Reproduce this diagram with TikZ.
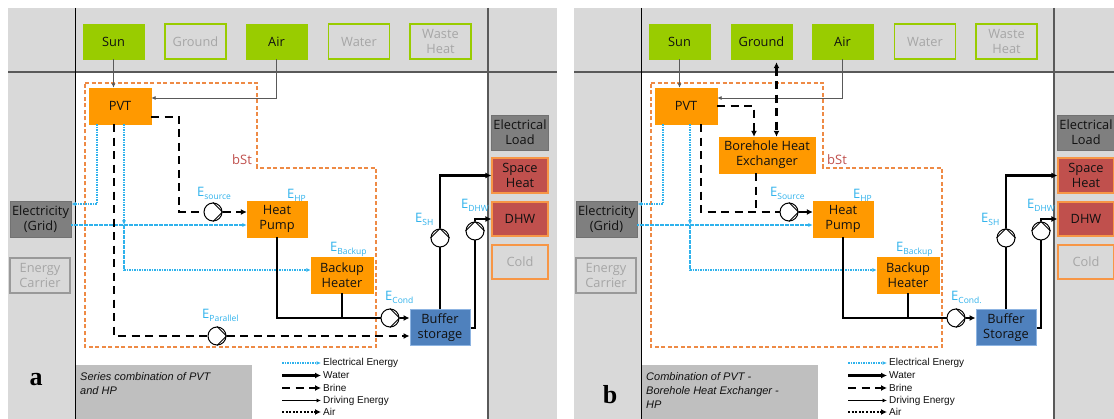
\documentclass[tikz,border=0pt]{standalone}
\usepackage{fontspec}
\setmainfont{Open Sans}
\newfontfamily\arialf{Liberation Sans}
\newfontfamily\timesf{Liberation Serif}
\usetikzlibrary{arrows.meta}
\definecolor{bggray}{HTML}{D9D9D9}
\definecolor{capgray}{HTML}{BFBFBF}
\definecolor{linegray}{HTML}{595959}
\definecolor{greenA}{HTML}{99CC00}
\definecolor{txtgray}{HTML}{A6A6A6}
\definecolor{orangeA}{HTML}{FF9900}
\definecolor{boundC}{HTML}{EE8A45}
\definecolor{bstC}{HTML}{C0504D}
\definecolor{loadC}{HTML}{7F7F7F}
\definecolor{redC}{HTML}{C0504D}
\definecolor{redB}{HTML}{F79646}
\definecolor{blueC}{HTML}{4F81BD}
\definecolor{blueB}{HTML}{8DB4E2}
\definecolor{eblue}{HTML}{2FB2EC}
\definecolor{txtdark}{HTML}{111111}
\newcommand\esub[1]{\raisebox{-2.8pt}{\fontsize{8.5}{8.5}\selectfont #1}}
\tikzset{
  box/.style={minimum width=61pt, minimum height=35pt, inner sep=1pt, align=center,
    font=\fontsize{12.8}{15}\selectfont, text=txtdark},
  srcon/.style={box, fill=greenA, draw=greenA},
  srcoff/.style={box, draw=greenA, line width=1.5pt, text=txtgray},
  comp/.style={box, fill=orangeA, draw=orangeA, minimum width=62pt, minimum height=36pt},
  loadbox/.style={box, fill=loadC, draw=loadC!90!black, line width=0.8pt},
  demand/.style={box, fill=redC, draw=redB, line width=1.2pt, minimum width=56pt},
  demandoff/.style={box, fill=bggray, draw=redB, line width=1.2pt, minimum width=56pt, text=txtgray},
  carrier/.style={box, fill=bggray, draw=loadC!80!white, line width=1.2pt, text=txtgray, minimum width=60pt},
  store/.style={box, fill=blueC, draw=blueB, line width=1pt, minimum width=60pt, minimum height=36pt},
  pumpc/.style={circle, draw=black, fill=white, line width=1pt, minimum size=18pt, inner sep=0pt},
  pumpln/.style={draw=black, line width=1pt},
  bound/.style={draw=boundC, line width=1.3pt, dash pattern=on 4pt off 2.5pt},
  bigarr/.style={-{Latex[length=6pt,width=6pt]}},
  bothbig/.style={{Latex[length=6pt,width=6pt]}-{Latex[length=6pt,width=6pt]}},
  smallarr/.style={-{Latex[length=4.5pt,width=4pt]}},
  brine/.style={draw=black, line width=2.3pt, dash pattern=on 8pt off 5.5pt},
  water/.style={draw=black, line width=2.3pt},
  airln/.style={draw=black, line width=2.3pt, dash pattern=on 2pt off 1.6pt},
  elec/.style={draw=eblue, line width=1.1pt, dash pattern=on 1.6pt off 0.9pt},
  drive/.style={draw=linegray, line width=0.9pt},
  legdrive/.style={draw=black, line width=0.8pt},
  elab/.style={anchor=base west, inner sep=0pt, text=eblue, font=\fontsize{13}{14}\selectfont},
  legtxt/.style={anchor=west, inner sep=2pt, text=txtdark, font=\arialf\fontsize{10}{11}\selectfont},
  capt/.style={anchor=north west, inner sep=0pt, align=left, text=txtdark, font=\arialf\itshape\fontsize{11}{14.3}\selectfont},
  bst/.style={inner sep=0pt, text=bstC, font=\fontsize{13}{14}\selectfont},
  letter/.style={inner sep=0pt, font=\timesf\bfseries\fontsize{26}{26}\selectfont}
}
% #1 ground style, #2 buffer word, #3 cond subscript
\newcommand\panelbase[3]{%
  \fill[bggray] (8,8) rectangle (557,419);
  \fill[white] (75,72) rectangle (488,419);
  \fill[capgray] (75,365) rectangle (252,419);
  \draw[linegray, line width=1.2pt] (8,72) -- (557,72);
  \draw[black, line width=1pt] (75,8) -- (75,419);
  \draw[linegray, line width=1.2pt] (488,8) -- (488,419);
  % sources
  \node[srcon] (sun) at (113.5,41.5) {Sun};
  \node[#1] (ground) at (195.5,41.5) {Ground};
  \node[srcon] (air) at (276.5,41.5) {Air};
  \node[srcoff] (water) at (359,41.5) {Water};
  \node[srcoff] (waste) at (440.5,41.5) {Waste\\Heat};
  % right column
  \node[loadbox, minimum width=57pt] (eload) at (520,132.5) {Electrical\\Load};
  \node[demand] (sh) at (520,175.5) {Space\\Heat};
  \node[demand, minimum height=34pt] (dhw) at (520,219) {DHW};
  \node[demandoff, minimum height=34pt] (cold) at (520,262) {Cold};
  % left column
  \node[loadbox, minimum height=36pt] (grid) at (40.5,219) {Electricity\\(Grid)};
  \node[carrier] (carrier) at (40,275.5) {Energy\\Carrier};
  % boundary
  \draw[bound] (85,83) -- (257,83) -- (257,168) -- (376,168) -- (376,347) -- (85,347) -- cycle;
  % components
  \node[comp] (pvt) at (120,106) {PVT};
  \node[comp, minimum width=60pt] (hp) at (277,219) {Heat\\Pump};
  \node[comp] (bh) at (342,275) {Backup\\Heater};
  \node[store] (buf) at (440,328) {Buffer\\#2};
  % pumps
  \node[pumpc] (pcond) at (390,318) {};
  \node[pumpc] (psh) at (440,238) {};
  \node[pumpc] (pdhw) at (475,231) {};
  \draw[pumpln] (pcond.north) -- (pcond.east) -- (pcond.south);
  \draw[pumpln] (psh.west) -- (psh.north) -- (psh.east);
  \draw[pumpln] (pdhw.west) -- (pdhw.north) -- (pdhw.east);
  % driving energy
  \draw[drive, smallarr] (sun.south) -- (sun.south |- pvt.north);
  \draw[drive, smallarr] (air.south) |- ([yshift=8pt]pvt.east);
  % electrical
  \coordinate (pvto1) at ([xshift=-23pt]pvt.south);
  \coordinate (gridin) at ([yshift=15pt]grid.east);
  \coordinate (gridout) at ([yshift=-6pt]grid.east);
  \coordinate (pvto2) at ([xshift=4pt]pvt.south);
  \coordinate (ej) at (pvto2 |- gridout);
  \coordinate (bhin) at ([yshift=5pt]bh.west);
  \draw[elec, smallarr] (pvto1) |- (gridin);
  \draw[elec, smallarr] (gridout) -- (gridout -| hp.west);
  \draw[elec, smallarr] (pvto2) -- (ej);
  \draw[elec, smallarr] (ej) |- (bhin);
  % water
  \draw[water] (hp.south) |- (pcond.west);
  \draw[water] (bh.south) -- (bh.south |- pcond.west);
  \draw[water, bigarr] (pcond.east) -- (pcond.east -| buf.west);
  \draw[water] (buf.north) -- (psh.south);
  \draw[water, bigarr] (psh.north) |- (sh.west);
  \draw[water] (buf.east) -| (pdhw.south);
  \draw[water, bigarr] (pdhw.north) |- (dhw.west);
  % labels
  \node[elab] (lhp) at (287,199) {E\esub{HP}};
  \node[elab] (lbk) at (330,252) {E\esub{Backup}};
  \node[elab] (lcond) at (385,301) {E\esub{#3}};
  \node[elab] (lsh) at (415,223) {E\esub{SH}};
  \node[elab] (ldhw) at (461,209) {E\esub{DHW}};
  % legend
  \node[legtxt] (lg1) at (321,363) {Electrical Energy};
  \node[legtxt] (lg2) at (321,375.5) {Water};
  \node[legtxt] (lg3) at (321,388) {Brine};
  \node[legtxt] (lg4) at (321,400.5) {Driving Energy};
  \node[legtxt] (lg5) at (321,412) {Air};
  \coordinate (lg1s) at (282,363);
  \coordinate (lg2s) at (282,375.5);
  \coordinate (lg3s) at (282,388);
  \coordinate (lg4s) at (282,400.5);
  \coordinate (lg5s) at (282,412);
  \draw[elec, smallarr] (lg1s) -- (lg1.west);
  \draw[water, bigarr] (lg2s) -- (lg2.west);
  \draw[brine, bigarr] (lg3s) -- (lg3.west);
  \draw[legdrive, smallarr] (lg4s) -- (lg4.west);
  \draw[airln, bigarr] (lg5s) -- (lg5.west);
}
\begin{document}
\begin{tikzpicture}[x=1pt,y=-1pt]
\useasboundingbox (0,0) rectangle (1114,419);
\fill[white] (0,0) rectangle (1114,419);
% ---------------- panel a ----------------
\begin{scope}[name prefix=a-]
  \panelbase{srcoff}{storage}{Cond}
  \node[bst] (bst) at (242,160) {bSt};
  \node[pumpc] (psrc) at (213,212) {};
  \node[pumpc] (ppar) at (217,336) {};
  \draw[pumpln] (psrc.north) -- (psrc.east) -- (psrc.south);
  \draw[pumpln] (ppar.north) -- (ppar.east) -- (ppar.south);
  \draw[brine] ([yshift=-11pt]pvt.east) -- ++(28,0) |- (psrc.west);
  \draw[brine, bigarr] (psrc.east) -- (psrc.east -| hp.west);
  \draw[brine] ([xshift=-6pt]pvt.south) |- (ppar.west);
  \draw[brine, bigarr] (ppar.east) -- (ppar.east -| buf.west);
  \node[elab] (lsrc) at (197,197) {E\esub{source}};
  \node[elab] (lpar) at (202,319) {E\esub{Parallel}};
  \node[capt] (cap) at (80,372) {Series combination of PVT\\and HP};
  \node[letter] (lbl) at (36,380) {a};
\end{scope}
% ---------------- panel b ----------------
\begin{scope}[xshift=566pt, name prefix=b-]
  \panelbase{srcon}{Storage}{Cond.}
  \node[bst] (bst) at (271,160) {bSt};
  \node[comp, minimum width=96pt] (bhe) at (201,155) {Borehole Heat\\Exchanger};
  \node[pumpc] (psrc) at (223,212) {};
  \draw[pumpln] (psrc.north) -- (psrc.east) -- (psrc.south);
  \coordinate (bhein) at ([xshift=-13pt]bhe.north);
  \draw[brine, bigarr] (pvt.east) -| (bhein);
  \coordinate (gtop) at ([xshift=15pt,yshift=-3pt]ground.south);
  \draw[brine, bothbig] (gtop) -- (gtop |- bhe.north);
  \coordinate (pvtb) at ([xshift=15pt]pvt.south);
  \draw[brine] (pvtb) |- (psrc.west);
  \coordinate (bheo) at ([xshift=-11pt]bhe.south);
  \draw[brine] (bheo) -- (bheo |- psrc.west);
  \draw[brine, bigarr] (psrc.east) -- (psrc.east -| hp.west);
  \node[elab] (lsrc) at (204,197) {E\esub{Source}};
  \node[capt] (cap) at (80,372) {Combination of PVT -\\Borehole Heat Exchanger -\\HP};
  \node[letter] (lbl) at (44,395) {b};
\end{scope}
\end{tikzpicture}
\end{document}
